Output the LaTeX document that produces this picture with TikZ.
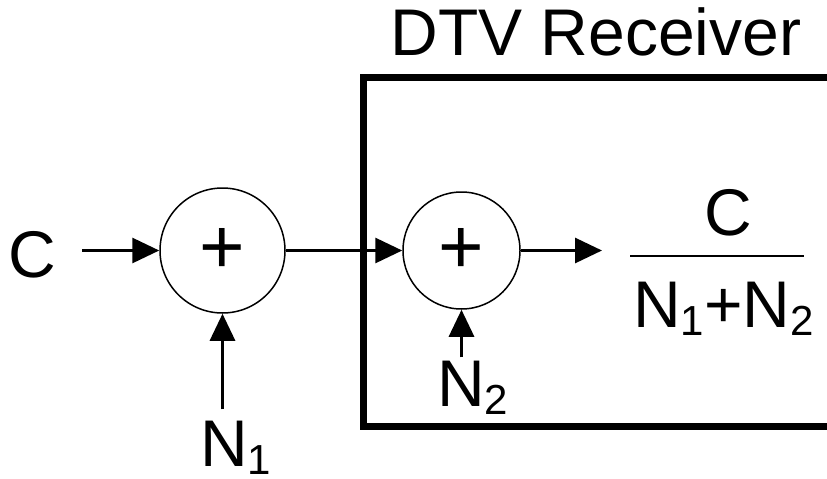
\documentclass[tikz,border=0pt]{standalone}
\usepackage{fontspec}
\setmainfont{Liberation Sans}
\usetikzlibrary{arrows.meta}
\newcommand{\bigfont}{\fontsize{66}{79}\selectfont}
\newcommand{\plusfont}{\fontsize{78}{90}\selectfont}
\newcommand{\lowsub}[1]{\raisebox{-8pt}{\fontsize{42}{50}\selectfont #1}}
\tikzset{
  % The 'sumnode' style is the thin circle of an adder
  sumnode/.style={draw=black, line width=1.5pt, shape=circle, inner sep=0pt, font=\plusfont},
  % The 'lbl' style is for the large signal labels
  lbl/.style={font=\bigfont, text=black, inner sep=0pt},
  % The 'sig' style is a thick signal line with a solid arrow head
  sig/.style={draw=black, line width=3pt, -{Triangle[length=27pt, width=25pt]}},
  % The 'rxbox' style is the heavy outline of the receiver
  rxbox/.style={draw=black, line width=7pt},
  % The 'bar' style is the thin fraction bar
  bar/.style={draw=black, line width=1.5pt}
}
\begin{document}
\begin{tikzpicture}[x=1pt, y=-1pt]

  \useasboundingbox (0,0) rectangle (827,479);
  \clip (0,0) rectangle (827,479);

  % Receiver outline, open to the right
  \draw[rxbox] (860,77) -- (363,77) -- (363,426) -- (860,426);
  \node[lbl, anchor=base] (title) at (596,55) {DTV Receiver};

  % The two adders
  \node[sumnode, minimum size=125pt] (sum1) at (222.5,250.5) {+};
  \node[sumnode, minimum size=117pt] (sum2) at (461.5,250.5) {+};

  % Inputs
  \node[lbl] (carrier) at (32,255) {C};
  \node[lbl, anchor=base west] (noise1) at (200,466) {N\lowsub{1}};
  \node[lbl, anchor=base west] (noise2) at (437,406) {N\lowsub{2}};

  % Output ratio
  \node[lbl, anchor=base] (ratio) at (728,235) {C};
  \node[lbl, anchor=base west] (sumnoise) at (633,327) {N\lowsub{1}+N\lowsub{2}};
  \coordinate (barl) at (630,256);
  \coordinate (barr) at (804,256);
  \draw[bar] (barl) -- (barr);
  \coordinate (out) at (602,250.5);

  % Signal flow
  \draw[sig, shorten <=26pt] (carrier.east |- sum1) -- (sum1.west);
  \draw[sig, shorten <=11pt] (sum1.south |- noise1.north) -- (sum1.south);
  \draw[sig] (sum1.east) -- (sum2.west);
  \draw[sig, shorten <=3pt] (sum2.south |- noise2.north) -- (sum2.south);
  \draw[sig] (sum2.east) -- (out);

\end{tikzpicture}
\end{document}
